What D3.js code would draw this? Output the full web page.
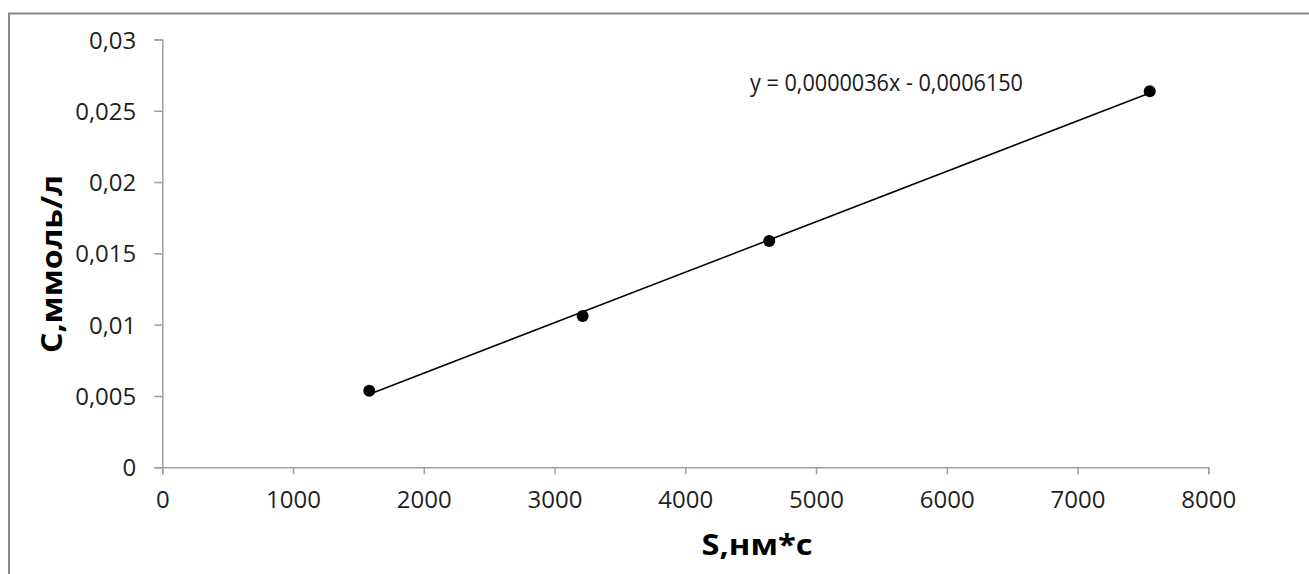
<!DOCTYPE html>
<html>
<head>
<meta charset="utf-8">
<script src="https://cdnjs.cloudflare.com/ajax/libs/d3/7.8.5/d3.min.js"></script>
<style>
  html, body { margin: 0; padding: 0; background: #fff; }
  svg { display: block; }
  .tick text { font-family: "Open Sans", sans-serif; font-size: 24px; fill: #1f1f1f; }
  .axis path, .axis line { stroke: #a0a0a0; stroke-width: 1.5; }
  .title { font-family: "Open Sans", sans-serif; font-size: 28px; font-weight: bold; fill: #000; }
</style>
</head>
<body>
<svg id="chart" width="1309" height="574"></svg>
<script>
  // measured area S (nm*s) vs concentration C (mmol/l)
  var sValues = [1583, 3215, 4642, 7552];
  var cValues = [0.00537, 0.01061, 0.01587, 0.02636];
  var xTicks = [0, 1000, 2000, 3000, 4000, 5000, 6000, 7000, 8000];
  var yTicks = [0, 0.005, 0.01, 0.015, 0.02, 0.025, 0.03];
  var yTickLabels = ["0", "0,005", "0,01", "0,015", "0,02", "0,025", "0,03"];
  var equationLabel = "y = 0,0000036x - 0,0006150";

  var svg = d3.select("#chart");

  // outer chart border
  svg.append("rect")
    .attr("x", 9).attr("y", 13.5)
    .attr("width", 1320).attr("height", 580)
    .attr("fill", "none")
    .attr("stroke", "#8a8a8a")
    .attr("stroke-width", 2);

  var x = d3.scaleLinear().domain([0, 8000]).range([162.3, 1208.3]);
  var y = d3.scaleLinear().domain([0, 0.03]).range([467.3, 39.4]);

  var xAxis = svg.append("g")
    .attr("class", "axis")
    .attr("transform", "translate(0," + y(0) + ")")
    .call(d3.axisBottom(x).tickValues(xTicks).tickSizeOuter(0).tickSize(7).tickPadding(12)
      .tickFormat(function (d) { return String(d); }));

  var yAxis = svg.append("g")
    .attr("class", "axis")
    .attr("transform", "translate(" + x(0) + ",0)")
    .call(d3.axisLeft(y).tickValues(yTicks).tickSizeOuter(0).tickSize(8).tickPadding(18)
      .tickFormat(function (d, i) { return yTickLabels[i]; }));

  yAxis.selectAll(".tick text").attr("dy", "0.36em");
  xAxis.selectAll(".tick text").attr("dy", "0.9em");

  // least squares trendline through the points
  var n = sValues.length;
  var mx = d3.mean(sValues), my = d3.mean(cValues);
  var sxy = 0, sxx = 0;
  for (var i = 0; i < n; i++) {
    sxy += (sValues[i] - mx) * (cValues[i] - my);
    sxx += (sValues[i] - mx) * (sValues[i] - mx);
  }
  var slope = sxy / sxx;
  var intercept = my - slope * mx;
  var xMin = d3.min(sValues), xMax = d3.max(sValues);

  svg.append("line")
    .attr("x1", x(xMin)).attr("y1", y(slope * xMin + intercept))
    .attr("x2", x(xMax)).attr("y2", y(slope * xMax + intercept))
    .attr("stroke", "#000")
    .attr("stroke-width", 1.5);

  svg.selectAll(".pt")
    .data(sValues)
    .enter().append("circle")
    .attr("class", "pt")
    .attr("cx", function (d) { return x(d); })
    .attr("cy", function (d, i) { return y(cValues[i]); })
    .attr("r", 6)
    .attr("fill", "#000");

  svg.append("text")
    .attr("x", 750).attr("y", 91)
    .attr("font-family", "Open Sans, sans-serif")
    .attr("font-size", 23)
    .attr("fill", "#1a1a1a")
    .attr("textLength", 273)
    .attr("lengthAdjust", "spacingAndGlyphs")
    .text(equationLabel);

  svg.append("text")
    .attr("class", "title")
    .attr("x", 757).attr("y", 555)
    .attr("text-anchor", "middle")
    .attr("textLength", 111)
    .attr("lengthAdjust", "spacingAndGlyphs")
    .text("S,нм*с");

  svg.append("text")
    .attr("class", "title")
    .attr("transform", "translate(62,264) rotate(-90)")
    .attr("text-anchor", "middle")
    .attr("textLength", 178)
    .attr("lengthAdjust", "spacingAndGlyphs")
    .text("С,ммоль/л");
</script>
</body>
</html>
